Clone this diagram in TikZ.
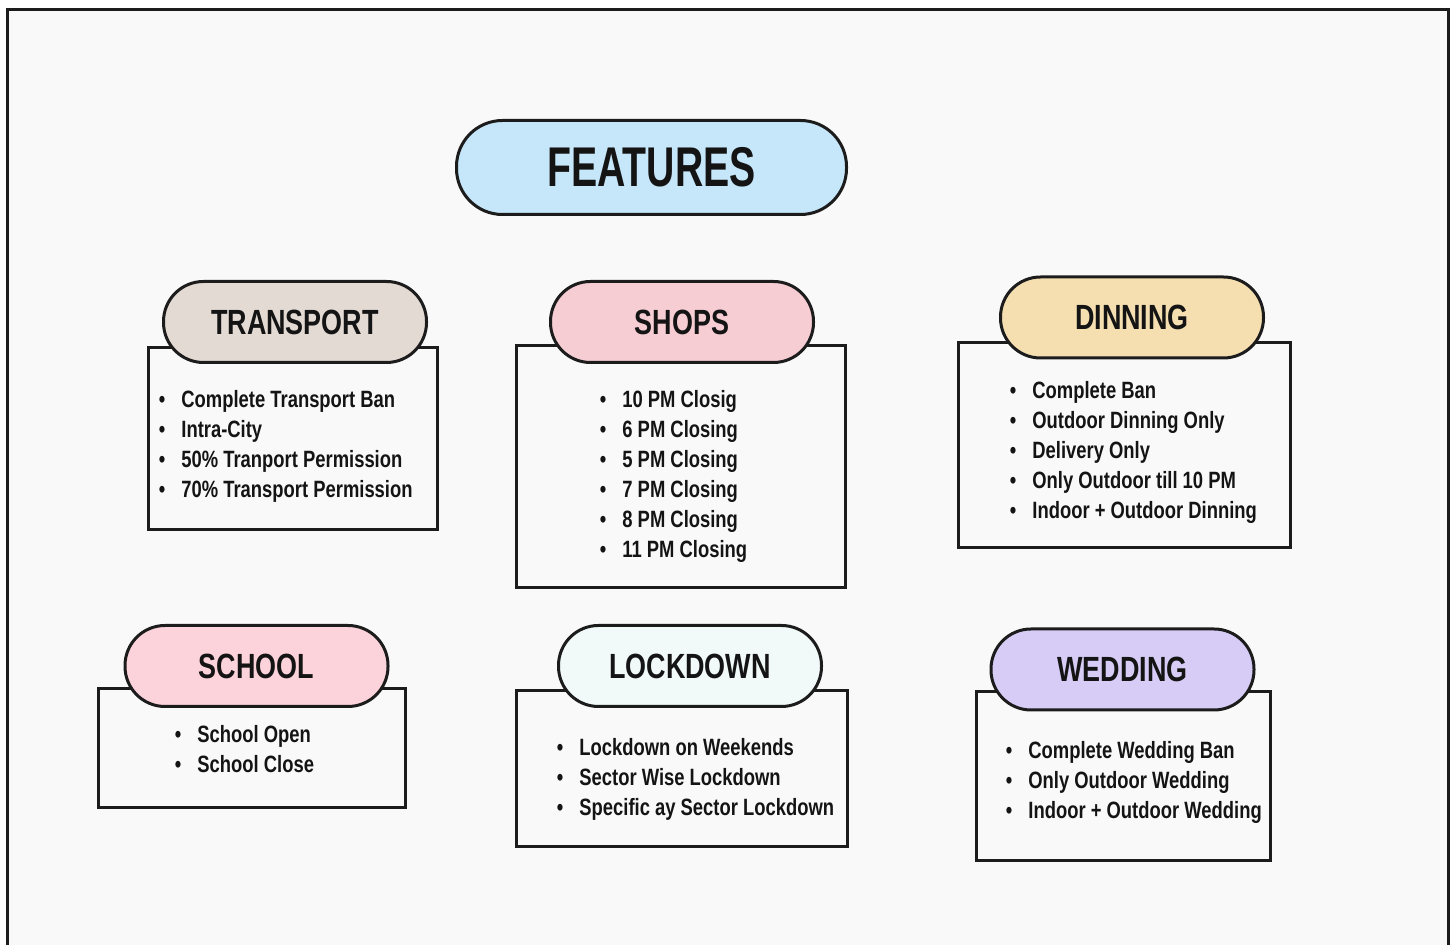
\documentclass[tikz,border=0pt]{standalone}
\usepackage{fontspec}
\setmainfont{Liberation Sans}
\newfontfamily\titlefont[FakeStretch=0.70]{Liberation Sans}
\newfontfamily\headfont[FakeStretch=0.77]{Liberation Sans}
\newfontfamily\itemfont[FakeStretch=0.78]{Liberation Sans}

\definecolor{paper}{HTML}{F9F9F9}
\definecolor{ink}{HTML}{141414}
\definecolor{edge}{HTML}{1C1C1C}
\definecolor{featfill}{HTML}{C6E7FA}
\definecolor{transportfill}{HTML}{E4DAD4}
\definecolor{shopsfill}{HTML}{F5CDD3}
\definecolor{dinningfill}{HTML}{F5DFB1}
\definecolor{schoolfill}{HTML}{FCD3DA}
\definecolor{lockdownfill}{HTML}{F1FAF8}
\definecolor{weddingfill}{HTML}{D6CCF6}

\tikzset{
  panel/.style={draw=edge, line width=1.5pt, fill=paper, inner sep=0pt},
  pill/.style={draw=edge, line width=1.5pt, rounded corners=20pt,
    minimum width=131.5pt, minimum height=40.5pt, inner sep=0pt, text=ink,
    font=\headfont\bfseries\fontsize{17.5}{20}\selectfont},
  item/.style={anchor=base west, inner sep=0pt, text=ink,
    font=\itemfont\bfseries\fontsize{11.8}{14}\selectfont,
    execute at begin node={\llap{\textbullet\hspace{8pt}}}}
}

\begin{document}
\begin{tikzpicture}[x=0.5pt,y=-0.5pt]
  \useasboundingbox (0,0) rectangle (1453,945);
  % Page and frame
  \fill[white] (0,0) rectangle (1453,945);
  \fill[paper] (7,10) rectangle (1448,945);
  \draw[edge, line width=1.5pt] (7,945) -- (7,10) -- (1448,10) -- (1448,945);

  % Title
  \node[pill, fill=featfill, minimum width=195pt, minimum height=47pt,
    rounded corners=23pt, font=\titlefont\bfseries\fontsize{28}{32}\selectfont]
    (features) at (651.5,167.5) {FEATURES};

  % Boxes
  \node[panel, minimum width=144.5pt, minimum height=91pt] (transportbox) at (293,438.5) {};
  \node[panel, minimum width=164.5pt, minimum height=121pt] (shopsbox) at (681,466.5) {};
  \node[panel, minimum width=166pt, minimum height=102.5pt] (dinningbox) at (1124.5,445) {};
  \node[panel, minimum width=153.5pt, minimum height=59.5pt] (schoolbox) at (252,748) {};
  \node[panel, minimum width=165.5pt, minimum height=78pt] (lockdownbox) at (682,768.5) {};
  \node[panel, minimum width=147pt, minimum height=84.5pt] (weddingbox) at (1123.5,776) {};

  % Headings
  \node[pill, fill=transportfill] (transport) at (295,322) {TRANSPORT};
  \node[pill, fill=shopsfill] (shops) at (682,322) {SHOPS};
  \node[pill, fill=dinningfill] (dinning) at (1132,317.5) {DINNING};
  \node[pill, fill=schoolfill] (school) at (256.5,666) {SCHOOL};
  \node[pill, fill=lockdownfill] (lockdown) at (690,666) {LOCKDOWN};
  \node[pill, fill=weddingfill] (wedding) at (1122.5,669.5) {WEDDING};

  % Lists
  \foreach \txt [count=\i] in {Complete Transport Ban, Intra-City,
      50\% Tranport Permission, 70\% Transport Permission}
    \node[item] (transport-\i) at (181,377.5+30*\i) {\txt};
  \foreach \txt [count=\i] in {10 PM Closig, 6 PM Closing, 5 PM Closing,
      7 PM Closing, 8 PM Closing, 11 PM Closing}
    \node[item] (shops-\i) at (622,378+30*\i) {\txt};
  \foreach \txt [count=\i] in {Complete Ban, Outdoor Dinning Only, Delivery Only,
      Only Outdoor till 10 PM, Indoor + Outdoor Dinning}
    \node[item] (dinning-\i) at (1032,368.5+30*\i) {\txt};
  \foreach \txt [count=\i] in {School Open, School Close}
    \node[item] (school-\i) at (197,712.5+30*\i) {\txt};
  \foreach \txt [count=\i] in {Lockdown on Weekends, Sector Wise Lockdown,
      Specific ay Sector Lockdown}
    \node[item] (lockdown-\i) at (579,725.5+30*\i) {\txt};
  \foreach \txt [count=\i] in {Complete Wedding Ban, Only Outdoor Wedding,
      Indoor + Outdoor Wedding}
    \node[item] (wedding-\i) at (1028,728.5+30*\i) {\txt};
\end{tikzpicture}
\end{document}
